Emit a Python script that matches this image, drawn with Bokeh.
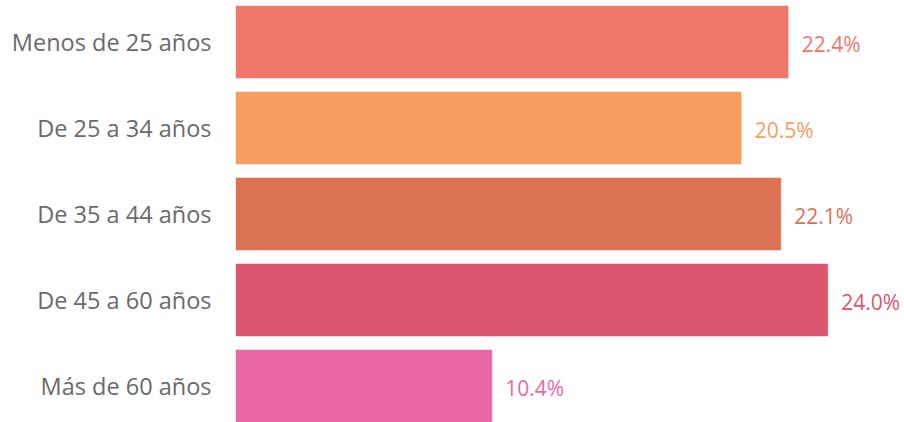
import numpy as np
from bokeh.plotting import figure
from bokeh.models import ColumnDataSource, Range1d, FixedTicker
from bokeh.core.properties import value
from bokeh.embed import file_html
from bokeh.resources import INLINE

categories = ["Menos de 25 años", "De 25 a 34 años", "De 35 a 44 años", "De 45 a 60 años", "Más de 60 años"]
shares = [22.4, 20.5, 22.1, 24.0, 10.4]
colors = ["#F0776C", "#F79D62", "#DB7254", "#DC566F", "#EC67A5"]

idx = np.arange(len(categories))
labels = [f"{v:.1f}%" for v in shares]
src = ColumnDataSource(dict(y=idx, right=shares, color=colors, label=labels))

bar_h = 0.849
p = figure(width=904, height=422, output_backend="svg", toolbar_location=None,
           x_range=Range1d(0, 27.09),
           y_range=Range1d(4.424, -0.483),
           min_border_left=235, min_border_right=0, min_border_top=0, min_border_bottom=0)

p.hbar(y="y", left=0, right="right", height=bar_h, fill_color="color",
       line_color="white", line_alpha=0.5, line_width=1, source=src)
p.text(x="right", y="y", text="label", text_color="color", source=src,
       text_font=value("Open Sans"), text_font_size="21px",
       text_baseline="middle", text_align="left", x_offset=13, y_offset=2)

p.xaxis.visible = False
p.yaxis.ticker = FixedTicker(ticks=list(idx))
p.yaxis.major_label_overrides = {int(i): c for i, c in zip(idx, categories)}
p.yaxis.axis_line_color = None
p.yaxis.major_tick_line_color = None
p.yaxis.minor_tick_line_color = None
p.yaxis.major_tick_out = 0
p.yaxis.major_label_standoff = 24
p.yaxis.major_label_text_font = "Open Sans"
p.yaxis.major_label_text_font_size = "23.5px"
p.yaxis.major_label_text_color = "#6a6a6a"
p.xgrid.visible = False
p.ygrid.visible = False
p.outline_line_color = None
p.background_fill_color = "white"
p.border_fill_color = "white"

open("out.html", "w").write(file_html(p, INLINE))
